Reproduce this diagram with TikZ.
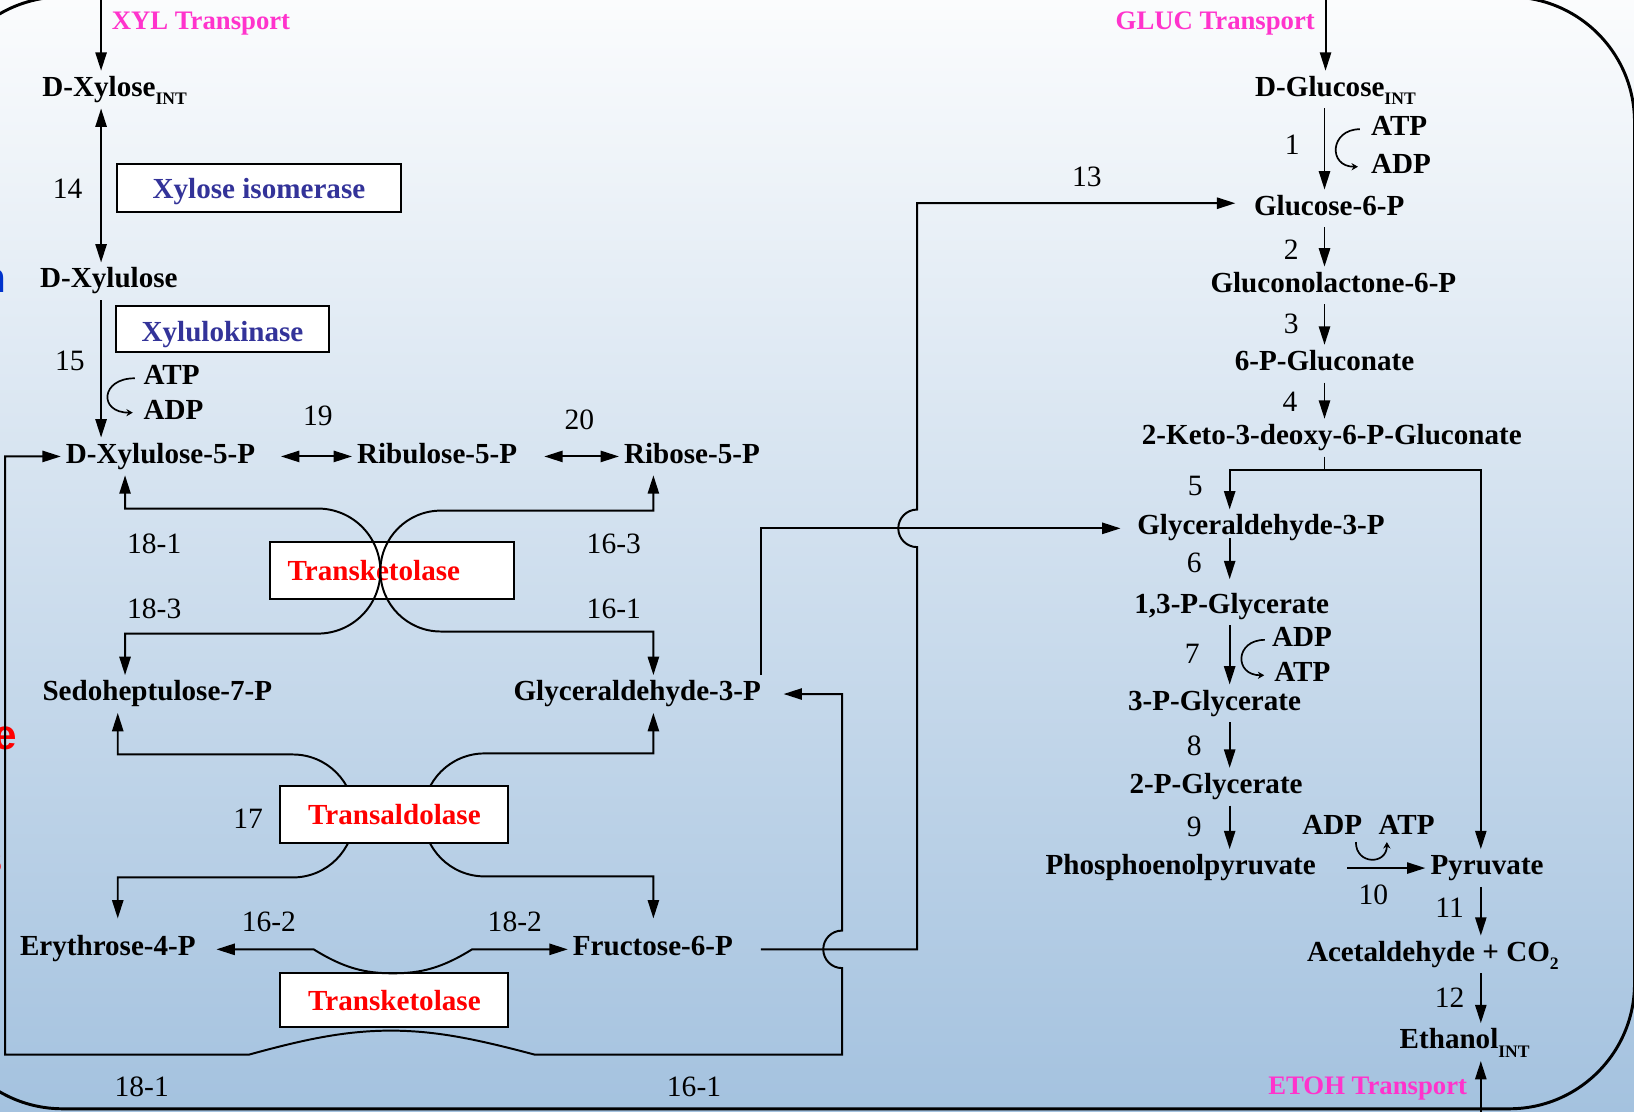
\documentclass[tikz,border=0pt]{standalone}
\usepackage{fontspec}
\setmainfont{Liberation Serif}
\newfontfamily\headfont{Liberation Sans}
\usetikzlibrary{arrows.meta}

\definecolor{enzblue}{RGB}{51,51,153}
\definecolor{trmag}{RGB}{255,51,204}
\definecolor{capblue}{RGB}{0,51,204}
\definecolor{bgtop}{RGB}{251,252,253}
\definecolor{bgbot}{RGB}{164,194,223}

\newcommand{\lowtext}[1]{\raisebox{-0.65ex}{\fontsize{12.5}{14}\selectfont #1}}

\begin{document}
\begin{tikzpicture}[x=0.2605mm, y=-0.2605mm,
    >={Triangle[length=4.6mm,width=2.8mm]},
    met/.style={font=\fontsize{20.7}{24}\selectfont\bfseries, inner sep=1.2mm, text height=5.1mm, text depth=1.8mm},
    cof/.style={met, inner sep=0.4pt, anchor=west},
    num/.style={font=\fontsize{21}{24}\selectfont, inner sep=0pt, text height=5mm, text depth=0pt},
    enz/.style={draw, line width=1.4pt, fill=white, font=\fontsize{20.7}{24}\selectfont\bfseries, inner sep=0pt},
    trans/.style={met, font=\fontsize{19}{22}\selectfont\bfseries, text=trmag, inner sep=0pt},
    flux/.style={line width=1.4pt, ->},
    rev/.style={line width=1.4pt, <->},
    link/.style={line width=1.4pt},
    curl/.style={line width=1.2pt, -{Stealth[length=1.6mm,width=1.8mm]}},
    frag/.style={font=\headfont\fontsize{30}{34}\selectfont\bfseries, inner sep=0pt, anchor=base east}]

    \shade[top color=bgtop, bottom color=bgbot] (0,0) rectangle (1568,1067);
    \useasboundingbox (0,0) rectangle (1568,1067);
    \draw[line width=2.1pt, rounded corners=31.3mm] (-60,-3) rectangle (1568.5,1064);

    % cut-off words of the slide
    \node[frag, text=capblue] (fragn) at (6,281) {n};
    \node[frag, text=red] (frage) at (17,719) {e};
    \node[frag, text=red] (frags) at (3,838) {s};

    % metabolites
    \node[met] (xylint) at (110,86) {D-Xylose\lowtext{INT}};
    \node[met] (xylu) at (104.5,270) {D-Xylulose};
    \node[met] (x5p) at (154,438) {D-Xylulose-5-P};
    \node[met] (ru5p) at (419.5,438) {Ribulose-5-P};
    \node[met] (r5p) at (664,438) {Ribose-5-P};
    \node[met] (s7p) at (151,666) {Sedoheptulose-7-P};
    \node[met] (gapl) at (611.5,666) {Glyceraldehyde-3-P};
    \node[met] (e4p) at (103.5,911) {Erythrose-4-P};
    \node[met] (f6p) at (626.5,911) {Fructose-6-P};

    \node[met] (glcint) at (1281.5,86) {D-Glucose\lowtext{INT}};
    \node[met] (g6p) at (1275.5,200) {Glucose-6-P};
    \node[met] (glcl) at (1279.5,274) {Gluconolactone-6-P};
    \node[met] (pglc) at (1271,349) {6-P-Gluconate};
    \node[met] (kdpg) at (1278,420) {2-Keto-3-deoxy-6-P-Gluconate};
    \node[met] (gapr) at (1210,507) {Glyceraldehyde-3-P};
    \node[met] (bpg) at (1182,582) {1,3-P-Glycerate};
    \node[met] (pg3) at (1165.5,675) {3-P-Glycerate};
    \node[met] (pg2) at (1167,755) {2-P-Glycerate};
    \node[met] (pep) at (1133,833) {Phosphoenolpyruvate};
    \node[met] (pyr) at (1427,833) {Pyruvate};
    \node[met] (acet) at (1375,916) {Acetaldehyde + CO\lowtext{2}};
    \node[met] (etoh) at (1405.5,1000) {Ethanol\lowtext{INT}};

    \node[trans, anchor=west] (xyltr) at (107,22) {XYL Transport};
    \node[trans, anchor=east] (glctr) at (1262,22) {GLUC Transport};
    \node[trans, anchor=east] (etohtr) at (1408,1044) {ETOH Transport};

    % cofactors
    \node[cof] (atp15) at (137,363) {ATP};
    \node[cof] (adp15) at (137,396) {ADP};
    \node[cof] (atp1) at (1315,124) {ATP};
    \node[cof] (adp1) at (1315,160) {ADP};
    \node[cof] (adp7) at (1220,614) {ADP};
    \node[cof] (atp7) at (1222,648) {ATP};
    \node[cof] (adp10) at (1249,794) {ADP};
    \node[cof] (atp10) at (1322,794) {ATP};

    % enzymes
    \node[enz, text=enzblue, text height=7.1mm, text depth=1.8mm, minimum width=71.1mm, minimum height=12mm] (xi) at (248.5,180) {Xylose isomerase};
    \node[enz, text=enzblue, text height=7.7mm, text depth=1.8mm, minimum width=53.4mm, minimum height=11.5mm] (xk) at (213.5,316) {Xylulokinase};
    \node[enz, text=red, text width=52.1mm, align=left, inner xsep=4.4mm, minimum height=14.3mm] (tka) at (376,547.5) {Transketolase};
    \node[enz, text=red, minimum width=57mm, minimum height=13.5mm] (tkb) at (378.5,960) {Transketolase};

    % reaction numbers
    \node[num] (n14) at (65,181) {14};
    \node[num] (n15) at (67,346) {15};
    \node[num] (n19) at (305,399) {19};
    \node[num] (n20) at (556,403) {20};
    \node[num] (n181a) at (148,522) {18-1};
    \node[num] (n183) at (148,584) {18-3};
    \node[num] (n163) at (589,522) {16-3};
    \node[num] (n161a) at (589,584) {16-1};
    \node[num] (n17) at (238,785) {17};
    \node[num] (n162) at (258,884) {16-2};
    \node[num] (n182) at (494,884) {18-2};
    \node[num] (n181b) at (136,1043) {18-1};
    \node[num] (n161b) at (666,1043) {16-1};
    \node[num] (n13) at (1043,169) {13};
    \node[num] (n1) at (1240,139) {1};
    \node[num] (n2) at (1239,239) {2};
    \node[num] (n3) at (1239,310) {3};
    \node[num] (n4) at (1238,385) {4};
    \node[num] (n5) at (1147,466) {5};
    \node[num] (n6) at (1146,540) {6};
    \node[num] (n7) at (1144,627) {7};
    \node[num] (n8) at (1146,715) {8};
    \node[num] (n9) at (1146,793) {9};
    \node[num] (n10) at (1318,858) {10};
    \node[num] (n11) at (1391,871) {11};
    \node[num] (n12) at (1391,957) {12};

    % columns and bends
    \coordinate (xylsrc) at (97,-5);
    \coordinate (glcsrc) at (1272,-5);
    \coordinate (etohsrc) at (1421,1070);
    \coordinate (colX) at (97,0);
    \coordinate (colG) at (1271,0);
    \coordinate (colL) at (1180,0);
    \coordinate (colP) at (1421,0);
    \coordinate (split) at (1271,451);
    \coordinate (tkl) at (120,0);
    \coordinate (tal) at (113,0);
    \coordinate (tkr) at (627,0);
    \coordinate (tk1a) at (305,488);
    \coordinate (tk1b) at (423,490);
    \coordinate (taa) at (281,724);
    \coordinate (tab) at (465,723);
    \coordinate (tkc) at (301,911);
    \coordinate (tkm) at (377,934);
    \coordinate (tkd) at (453,911);
    \coordinate (loop) at (5,1012);
    \coordinate (tke) at (239,1012);
    \coordinate (tkn) at (375,989);
    \coordinate (tkf) at (513,1012);
    \coordinate (jmpa) at (808,929);
    \coordinate (jmpb) at (880,525);

    % xylose branch
    \draw[flux] (xylsrc) -- (xylint.north -| xylsrc);
    \draw[rev] (xylint.south -| colX) -- (xylu.north -| colX);
    \draw[flux] (xylu.south -| colX) -- (x5p.north -| colX);
    \draw[curl] ([xshift=-2mm]atp15.west) .. controls +(-33,0) and +(-33,0) .. ([xshift=-2.5mm]adp15.west);
    \draw[rev] ([xshift=5.2mm]x5p.east) -- (ru5p.west);
    \draw[rev] ([xshift=5.5mm]ru5p.east) -- (r5p.west);

    % transketolase, top
    \draw[rev] (x5p.south -| tkl) |- (tk1a) arc[start angle=90, end angle=-90, radius=15.63mm] -| (s7p.north -| tkl);
    \draw[rev] (r5p.south -| tkr) |- (tk1b) arc[start angle=90, end angle=270, radius=15.11mm] -| (gapl.north -| tkr);

    % transaldolase
    \draw[rev, shorten >=3mm] (s7p.south -| tal) |- (taa) arc[start angle=90, end angle=-90, radius=15.37mm] -| (e4p.north -| tal);
    \draw[rev, shorten >=3mm] (gapl.south -| tkr) |- (tab) arc[start angle=90, end angle=270, radius=15.37mm] -| (f6p.north -| tkr);
    \node[enz, text=red, minimum width=57mm, minimum height=14.3mm] (ta) at (378.5,781.5) {Transaldolase};

    % transketolase, bottom
    \draw[rev] ([xshift=3.9mm]e4p.east) -- (tkc) .. controls (330,929) and (350,934) .. (tkm) .. controls (404,934) and (424,929) .. (tkd) -- (f6p.west);
    \draw[flux] ([xshift=-1.3mm]gapl.north east) |- ([xshift=-2.9mm]gapr.west);
    \draw[rev] (x5p.west) -| (loop) -- (tke) .. controls (290,998) and (330,989) .. (tkn) .. controls (420,989) and (460,998) .. (tkf) -| (jmpa) arc[start angle=-90, end angle=-270, radius=4.69mm] |- ([xshift=4.4mm]gapl.east);
    \draw[flux] ([xshift=5.7mm]f6p.east) -| (jmpb) arc[start angle=-90, end angle=-270, radius=4.69mm] |- ([xshift=-3.4mm,yshift=1.3mm]g6p.west);

    % glucose branch
    \draw[flux] (glcsrc) -- (glcint.north -| glcsrc);
    \draw[flux] (glcint.south -| colG) -- (g6p.north -| colG);
    \draw[curl] ([xshift=-2.6mm]atp1.west) .. controls +(-29,0) and +(-29,0) .. ([xshift=-3.1mm]adp1.west);
    \draw[flux] (g6p.south -| colG) -- (glcl.north -| colG);
    \draw[flux] (glcl.south -| colG) -- (pglc.north -| colG);
    \draw[flux] (pglc.south -| colG) -- (kdpg.north -| colG);
    \draw[link] (kdpg.south -| split) -- (split);
    \draw[flux] (split) -| (gapr.north -| colL);
    \draw[flux] (split) -| (pyr.north -| colP);
    \draw[flux, shorten <=-2.3mm, shorten >=2.1mm] (gapr.south -| colL) -- (bpg.north -| colL);
    \draw[flux] (bpg.south -| colL) -- (pg3.north -| colL);
    \draw[curl] ([xshift=-1.6mm]adp7.west) .. controls +(-29,0) and +(-29,0) .. ([xshift=-2.3mm]atp7.west);
    \draw[flux] (pg3.south -| colL) -- (pg2.north -| colL);
    \draw[flux] (pg2.south -| colL) -- (pep.north -| colL);
    \draw[flux] ([xshift=6.6mm]pep.east) -- (pyr.west);
    \draw[curl] ([xshift=-1.8mm]adp10.south east) .. controls +(0,22) and +(0,22) .. ([xshift=2.3mm]atp10.south west);
    \draw[flux] (pyr.south -| colP) -- (acet.north -| colP);
    \draw[flux] (acet.south -| colP) -- (etoh.north -| colP);
    \draw[flux] (etohsrc) -- (etoh.south -| etohsrc);
\end{tikzpicture}
\end{document}
